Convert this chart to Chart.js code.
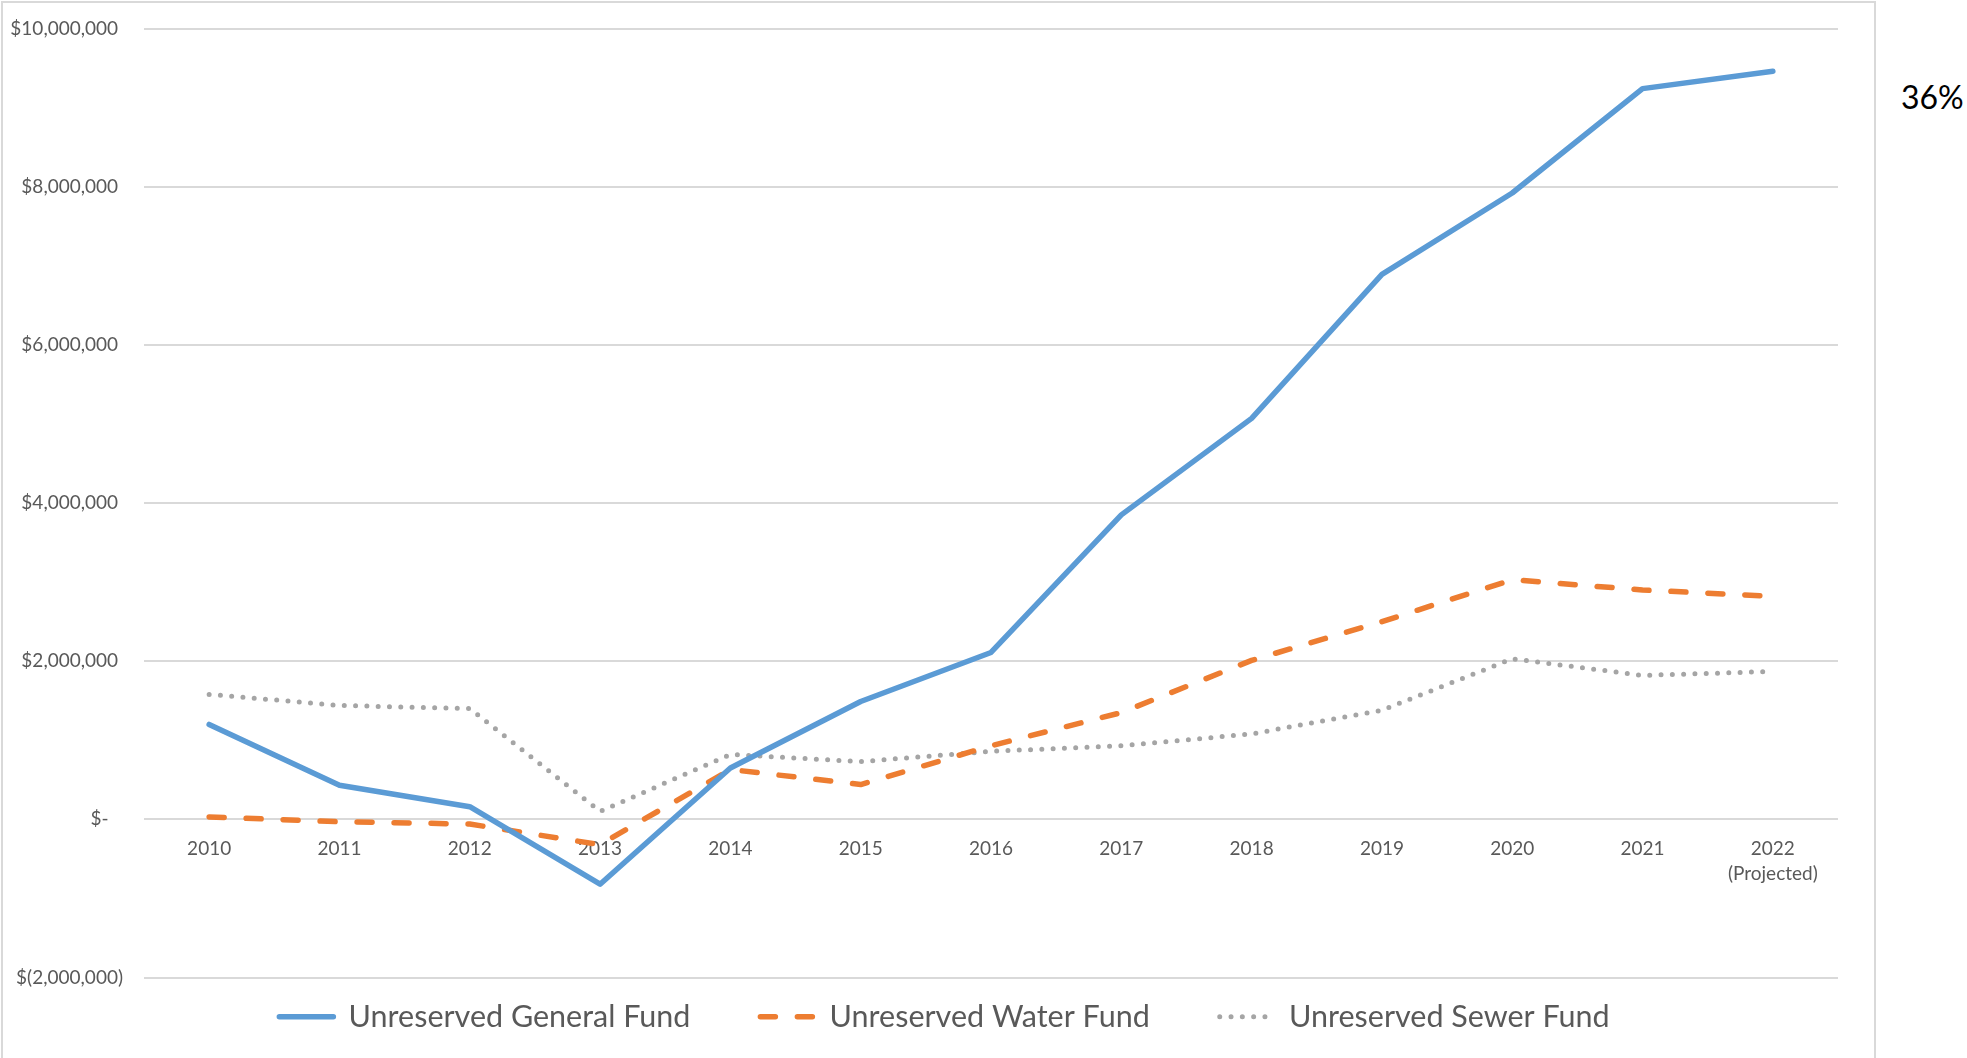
<!DOCTYPE html>
<html>
<head>
<meta charset="utf-8">
<script src="https://cdn.jsdelivr.net/npm/chart.js@4/dist/chart.umd.min.js"></script>
<style>
    body { margin: 0; width: 1967px; height: 1058px; overflow: hidden; background: #fff; font-family: Lato, sans-serif; }
    #kontajner { position: absolute; left: 1px; top: 1px; width: 1875px; height: 1064px; border: 2px solid #d9d9d9; box-sizing: border-box; }
    #graf { display: block; }
    #percento { position: absolute; left: 1901px; top: 81px; font-size: 32px; line-height: 1; color: #000; }
</style>
</head>
<body>
<div id="kontajner"><canvas id="graf" width="1871" height="1060"></canvas></div>
<div id="percento">36%</div>
<script>
const roky = ['2010', '2011', '2012', '2013', '2014', '2015', '2016', '2017', '2018', '2019', '2020', '2021', ['2022', '(Projected)']];
const generalFund = [1200000, 430000, 160000, -820000, 650000, 1490000, 2110000, 3850000, 5070000, 6890000, 7920000, 9240000, 9460000];
const waterFund = [30000, -30000, -60000, -320000, 630000, 440000, 930000, 1350000, 2010000, 2500000, 3030000, 2900000, 2820000];
const sewerFund = [1580000, 1440000, 1400000, 100000, 820000, 730000, 860000, 930000, 1080000, 1380000, 2030000, 1820000, 1870000];
const yMin = -2000000;
const yMax = 10000000;
const yKrok = 2000000;

function dolare(v) {
    if (v === 0) return '$-\u2002 ';
    let s = Math.abs(v).toLocaleString('en-US');
    return v < 0 ? '$(' + s + ')' : '$' + s + ' ';
}

// bez automatickych okrajov od popisov
function bezOkrajov(s) {
    s.paddingTop = 0;
    s.paddingBottom = 0;
    s.paddingLeft = 0;
    s.paddingRight = 0;
}

// legenda v exceli nie je presne v strede
const posunLegendy = {
    id: 'posunLegendy',
    afterLayout(chart) {
        chart.legend.left += 20;
        chart.legend.right += 20;
    }
};

document.addEventListener("DOMContentLoaded", ()=>{
    let cont = document.getElementById('graf').getContext('2d');
    let sivy = '#595959';
    let graf = new Chart(cont, {
        type: 'line',
        plugins: [posunLegendy],
        data: {
            labels: roky,
            datasets: [
                {
                    label: 'Unreserved General Fund',
                    borderColor: '#5b9bd5',
                    backgroundColor: '#5b9bd5',
                    borderWidth: 5.5,
                    borderCapStyle: 'round',
                    data: generalFund,
                    fill: false,
                },
                {
                    label: 'Unreserved Water Fund',
                    borderColor: '#ed7d31',
                    backgroundColor: '#ed7d31',
                    borderWidth: 5.5,
                    borderDash: [15, 22],
                    borderCapStyle: 'round',
                    data: waterFund,
                    fill: false,
                },
                {
                    label: 'Unreserved Sewer Fund',
                    borderColor: '#a5a5a5',
                    backgroundColor: '#a5a5a5',
                    borderWidth: 5,
                    borderDash: [0, 11.3],
                    borderCapStyle: 'round',
                    data: sewerFund,
                    fill: false,
                },
            ]
        },
        options: {
            responsive: false,
            animation: false,
            elements: { point: { radius: 0 }, line: { tension: 0, borderJoinStyle: 'round' } },
            layout: { padding: { top: 25.5, left: 8, right: 36, bottom: 21 } },
            scales: {
                x: {
                    position: { y: 0 },
                    offset: true,
                    afterFit: bezOkrajov,
                    grid: { display: false, drawTicks: false },
                    border: { display: false },
                    ticks: { color: sivy, padding: 17, maxRotation: 0, autoSkip: false, font: { family: 'Lato', size: 19, lineHeight: 1.3 } },
                },
                y: {
                    min: yMin,
                    max: yMax,
                    afterFit: (s) => { bezOkrajov(s); s.width = 133; },
                    grid: { color: '#d9d9d9', lineWidth: 2, drawTicks: false },
                    border: { display: false },
                    ticks: { stepSize: yKrok, color: sivy, padding: 21, font: { family: 'Lato', size: 19 }, callback: (v) => dolare(v) },
                },
            },
            plugins: {
                tooltip: { enabled: false },
                legend: {
                    position: 'bottom',
                    labels: {
                        color: sivy,
                        font: { family: 'Lato', size: 30.5 },
                        usePointStyle: true,
                        pointStyle: 'line',
                        pointStyleWidth: 54,
                        padding: 24,
                        generateLabels: (chart) => {
                            let items = Chart.defaults.plugins.legend.labels.generateLabels(chart);
                            items.forEach((it, i) => {
                                let ds = chart.data.datasets[i];
                                it.pointStyle = 'line';
                                it.lineWidth = ds.borderWidth;
                                it.lineDash = ds.borderDash || [];
                                it.lineCap = ds.borderCapStyle || 'butt';
                                if (i < items.length - 1) it.text = it.text + '\u2003\u2002 ';
                            });
                            return items;
                        },
                    },
                },
            },
        }
    });
})
</script>
</body>
</html>
